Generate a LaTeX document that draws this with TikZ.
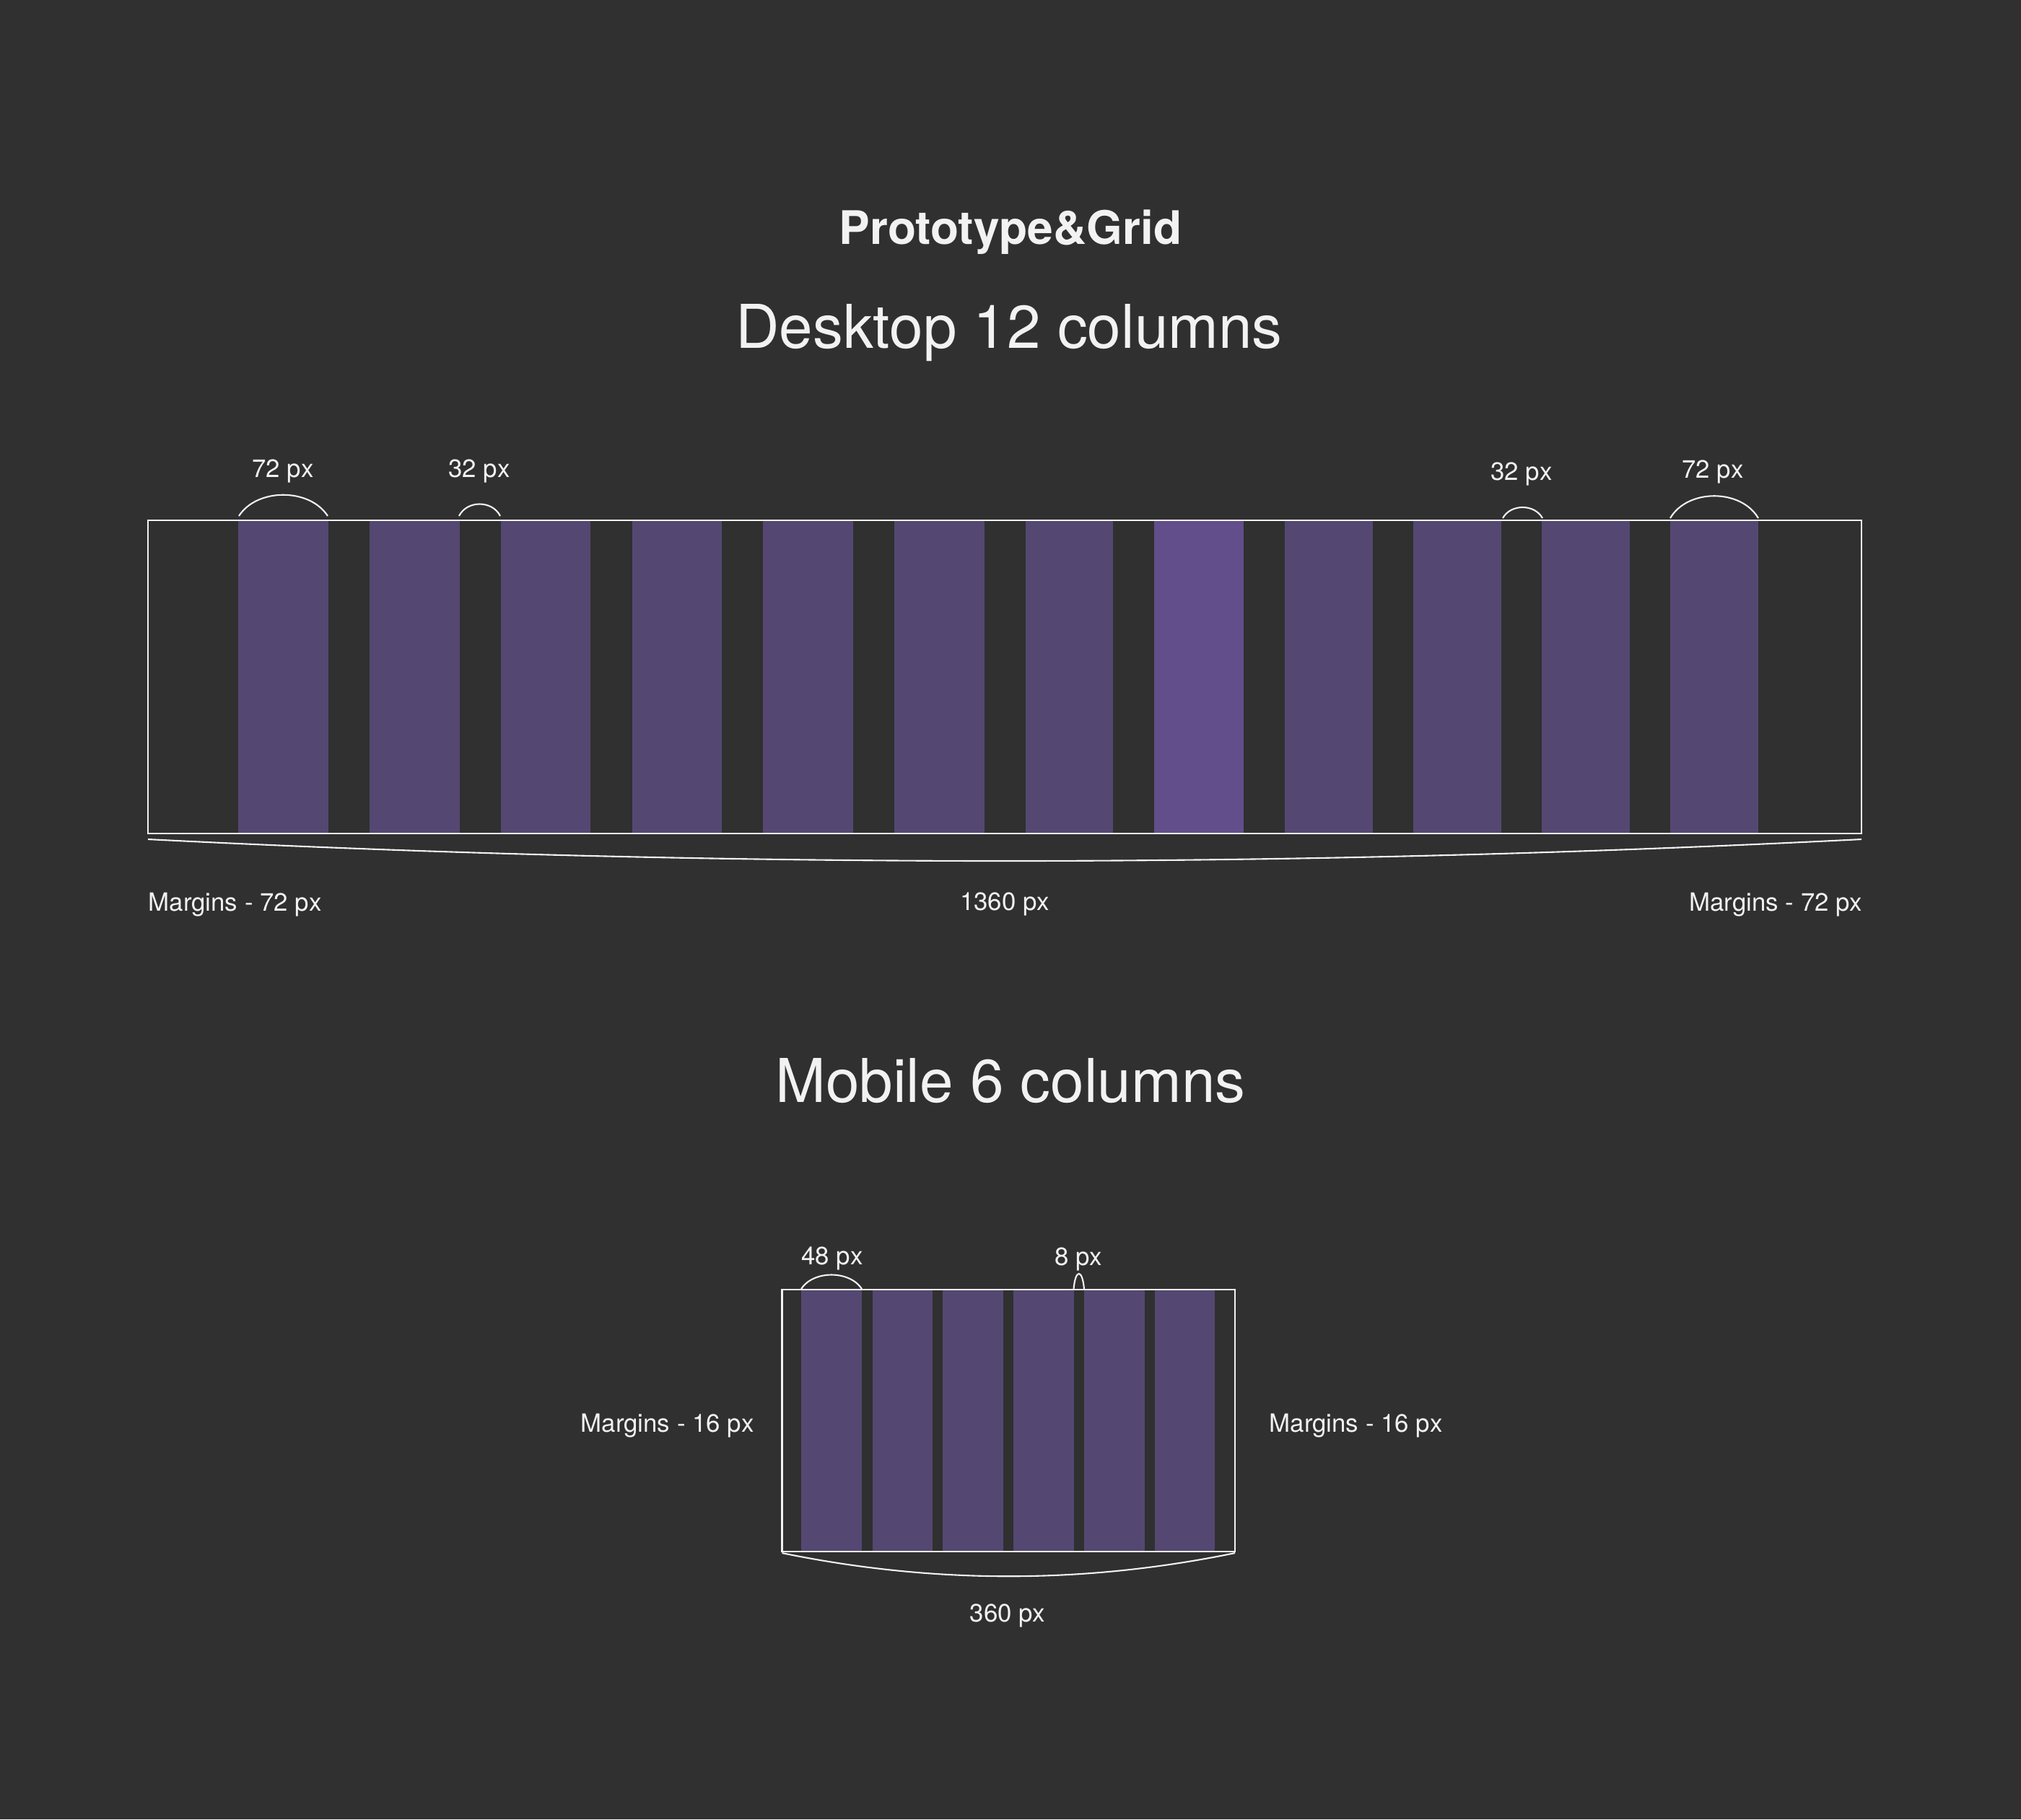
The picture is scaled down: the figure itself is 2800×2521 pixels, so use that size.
\documentclass[tikz,border=0pt]{standalone}
\usepackage{fontspec}
\setmainfont{TeX Gyre Heros}
\definecolor{bg}{HTML}{303030}
\definecolor{col}{HTML}{544873}
\definecolor{colhi}{HTML}{624E8B}
\definecolor{ink}{HTML}{F2F2F2}
\tikzset{
  lbl/.style={inner sep=0pt, text=ink, font=\fontsize{9.9pt}{12pt}\selectfont},
  heading/.style={inner sep=0pt, text=ink, font=\fontsize{23.8pt}{28pt}\selectfont},
  ttl/.style={inner sep=0pt, text=ink, font=\fontsize{18.2pt}{22pt}\selectfont\bfseries},
  frame/.style={draw=ink, line width=0.6pt},
  arcline/.style={draw=ink, line width=0.6pt},
  colbox/.style={fill=col, draw=none},
}
\begin{document}
\begin{tikzpicture}[x=0.01cm, y=-0.01cm]
\fill[bg] (0,0) rectangle (2800,2521);
\useasboundingbox (0,0) rectangle (2800,2521);

% titles
\node[ttl, anchor=base] (title) at (1400,338) {Prototype\&Grid};
\node[heading, anchor=base] (desk) at (1398,482) {Desktop 12 columns};
\node[heading, anchor=base] (mob) at (1400,1527) {Mobile 6 columns};

% desktop columns
\foreach \a/\b [count=\i] in {330/455, 512/637, 694/818, 876/1000, 1057/1182, 1239/1364, 1421/1542, 1599/1723, 1780/1902, 1958/2080, 2136/2258, 2314/2436}{
  \ifnum\i=8
    \fill[colhi] (\a,721) rectangle (\b,1155);
  \else
    \fill[col] (\a,721) rectangle (\b,1155);
  \fi
}
\draw[frame] (205,721) rectangle (2579,1155);

% desktop arcs
\coordinate (a1s) at (331,715); \coordinate (a1e) at (454,715);
\coordinate (a2s) at (636,715); \coordinate (a2e) at (693,715);
\coordinate (a3s) at (2082,718); \coordinate (a3e) at (2137,718);
\coordinate (a4s) at (2314,718); \coordinate (a4e) at (2436,718);
\draw[arcline] (a1s) .. controls (356,676) and (429,676) .. (a1e);
\draw[arcline] (a2s) .. controls (647,693) and (682,693) .. (a2e);
\draw[arcline] (a3s) .. controls (2093,698) and (2126,698) .. (a3e);
\draw[arcline] (a4s) .. controls (2338,677) and (2412,677) .. (a4e);

\node[lbl, anchor=base] (l72a) at (392,661) {72 px};
\node[lbl, anchor=base] (l32a) at (664,661) {32 px};
\node[lbl, anchor=base] (l32b) at (2108,665) {32 px};
\node[lbl, anchor=base] (l72b) at (2373,662) {72 px};

% desktop brace
\coordinate (bs) at (205,1163); \coordinate (be) at (2579,1163);
\draw[arcline] (bs) .. controls (996,1203) and (1788,1203) .. (be);

\node[lbl, anchor=base west] (ml) at (205,1262) {Margins - 72 px};
\node[lbl, anchor=base] (w1360) at (1392,1261) {1360 px};
\node[lbl, anchor=base east] (mr) at (2581,1262) {Margins - 72 px};

% mobile columns
\foreach \a/\b in {1110/1194, 1208.5/1292, 1306/1390, 1404/1487.5, 1502/1586, 1599.5/1683}{
  \fill[col] (\a,1787) rectangle (\b,2150);
}
\draw[frame] (1083.5,1787) rectangle (1711,2150);

% mobile arcs
\coordinate (m1s) at (1110,1786); \coordinate (m1e) at (1194,1786);
\coordinate (m2s) at (1487.5,1786); \coordinate (m2e) at (1502,1786);
\draw[arcline] (m1s) .. controls (1127,1760) and (1177,1760) .. (m1e);
\draw[arcline] (m2s) .. controls (1490,1758) and (1499.5,1758) .. (m2e);

\node[lbl, anchor=base] (l48) at (1153,1752) {48 px};
\node[lbl, anchor=base] (l8) at (1494,1753) {8 px};

\node[lbl, anchor=base west] (mml) at (804,1984) {Margins - 16 px};
\node[lbl, anchor=base west] (mmr) at (1758,1984) {Margins - 16 px};

% mobile brace
\coordinate (ms) at (1083.5,2152); \coordinate (me) at (1711,2152);
\draw[arcline] (ms) .. controls (1293,2195) and (1502,2195) .. (me);

\node[lbl, anchor=base] (w360) at (1396,2247) {360 px};
\end{tikzpicture}
\end{document}
